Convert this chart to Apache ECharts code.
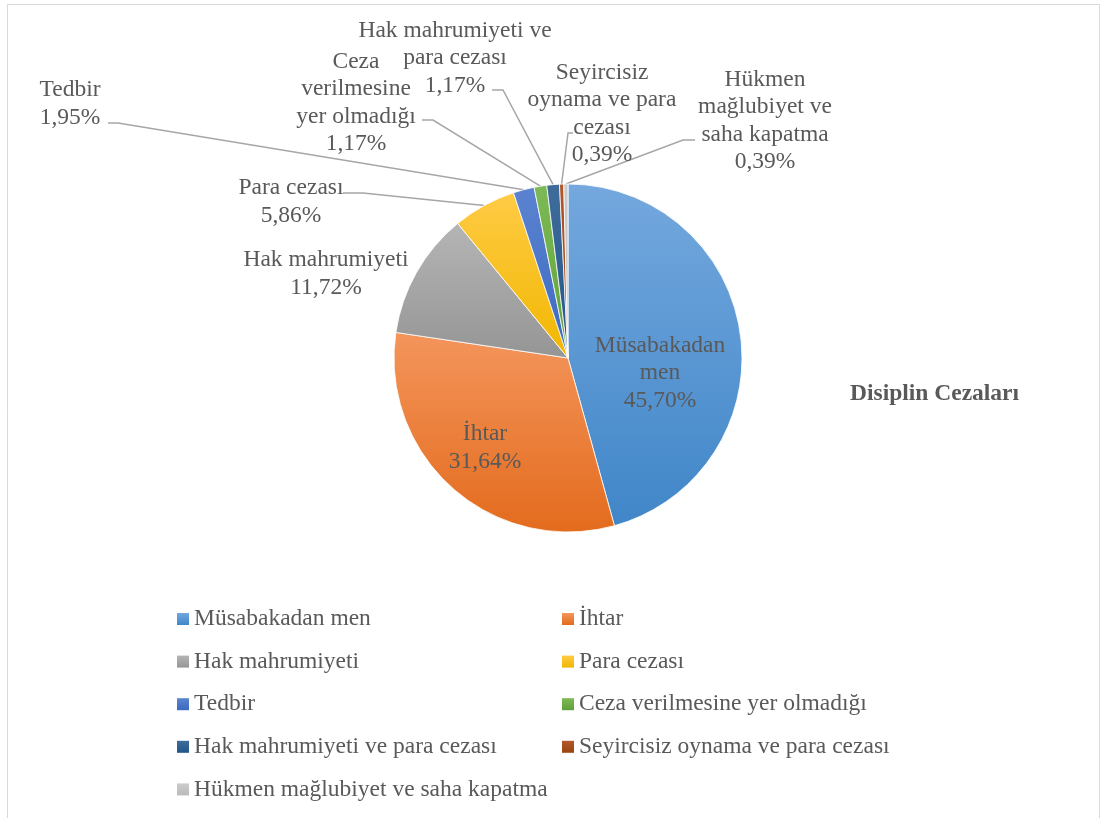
<!DOCTYPE html>
<html>
<head>
<meta charset="utf-8">
<title>Disiplin Cezaları</title>
<script src="https://cdn.jsdelivr.net/npm/echarts@6/dist/echarts.min.js"></script>
<style>
  html, body { margin: 0; padding: 0; background: #fff; }
  #chart { width: 1103px; height: 818px; }
</style>
</head>
<body>
<div id="chart"></div>
<script>
// kategoriler (lejant adlari)
var categories = [
  'Müsabakadan men',
  'İhtar',
  'Hak mahrumiyeti',
  'Para cezası',
  'Tedbir',
  'Ceza verilmesine yer olmadığı',
  'Hak mahrumiyeti ve para cezası',
  'Seyircisiz oynama ve para cezası',
  'Hükmen mağlubiyet ve saha kapatma'
]
// yuzdeler
var percents = [45.70, 31.64, 11.72, 5.86, 1.95, 1.17, 1.17, 0.39, 0.39]
// etiketlerde kullanilan satir kirilimli adlar
var labelNames = [
  'Müsabakadan\nmen',
  'İhtar',
  'Hak mahrumiyeti',
  'Para cezası',
  'Tedbir',
  'Ceza\nverilmesine\nyer olmadığı',
  'Hak mahrumiyeti ve\npara cezası',
  'Seyircisiz\noynama ve para\ncezası',
  'Hükmen\nmağlubiyet ve\nsaha kapatma'
]

// dilim renkleri (ust / alt)
var sliceColors = [
  ['#74a8de', '#4086c8'],
  ['#f4955c', '#e36b1d'],
  ['#b5b5b5', '#959595'],
  ['#ffcb45', '#f1b700'],
  ['#5b83d1', '#3c69bf'],
  ['#7dba57', '#60a03a'],
  ['#3f6c9b', '#21558a'],
  ['#b2572b', '#9a450f'],
  ['#cbcbcb', '#bbbbbb']
]
// etiket konumlari (merkez)
var labelPos = [
  [660, 373],
  [485, 448],
  [326, 274],
  [291, 202],
  [70, 104],
  [356, 103],
  [455, 58],
  [602, 114],
  [765, 121]
]
// kilavuz cizgisinin etiket tarafindaki ucu [x, y, yatay uzunluk]
var lineAnchors = [
  null,
  null,
  null,
  [343, 193, 20],
  [108, 123, 10],
  [422, 120, 11],
  [492, 90, 11],
  [573, 133, -5],
  [695, 140, -12]
]

var pieCenter = [568, 358]
var pieRadius = 174
var textColor = '#595959'
var fontFamily = '"Liberation Serif", "Times New Roman", serif'
var fontSize = 23.5

var chart = echarts.init(document.getElementById('chart'))

var pieData = categories.map(function(name, i) {
  var item = {
    name: name,
    value: percents[i],
    itemStyle: {
      color: new echarts.graphic.LinearGradient(0, 0, 0, 1, [
        { offset: 0, color: sliceColors[i][0] },
        { offset: 1, color: sliceColors[i][1] }
      ])
    }
  }
  if (!lineAnchors[i]) {
    item.labelLine = { show: false }
  }
  return item
})

// dilimin dis yayinda orta nokta (yedek hesap)
function arcMidPoint(idx) {
  var total = 0
  var before = 0
  percents.forEach(function(v, i) {
    total += v
    if (i < idx) before += v
  })
  var a = (before + percents[idx] / 2) / total * Math.PI * 2
  return [pieCenter[0] + pieRadius * Math.sin(a), pieCenter[1] - pieRadius * Math.cos(a)]
}

var legendText = {
  color: textColor,
  fontFamily: fontFamily,
  fontSize: fontSize,
  lineHeight: 24
}

function makeLegend(left, odd) {
  return {
    orient: 'vertical',
    left: left,
    top: 607,
    padding: 0,
    itemWidth: 12,
    itemHeight: 12,
    itemGap: 18.6,
    icon: 'rect',
    itemStyle: { borderWidth: 0 },
    textStyle: legendText,
    data: categories.filter(function(c, i) { return i % 2 === odd })
  }
}

var option = {
  animation: false,
  backgroundColor: '#fff',
  title: {
    text: 'Disiplin Cezaları',
    left: 850,
    top: 382,
    padding: 0,
    textStyle: {
      color: textColor,
      fontFamily: fontFamily,
      fontSize: fontSize,
      lineHeight: 24,
      fontWeight: 'bold'
    }
  },
  legend: [makeLegend(177, 0), makeLegend(562, 1)],
  graphic: [
    {
      type: 'rect',
      shape: { x: 7.5, y: 4.5, width: 1092, height: 830 },
      style: { fill: 'none', stroke: '#d9d9d9', lineWidth: 1 },
      silent: true
    }
  ],
  series: [
    {
      type: 'pie',
      center: pieCenter,
      radius: pieRadius,
      startAngle: 90,
      clockwise: true,
      avoidLabelOverlap: false,
      itemStyle: {
        borderColor: '#fff',
        borderWidth: 0.8
      },
      label: {
        show: true,
        position: 'outside',
        color: textColor,
        fontFamily: fontFamily,
        fontSize: fontSize,
        lineHeight: 27.5,
        align: 'center',
        formatter: function(p) {
          return labelNames[p.dataIndex] + '\n' + p.value.toFixed(2).replace('.', ',') + '%'
        }
      },
      labelLine: {
        show: true,
        length: 10,
        length2: 12,
        lineStyle: { color: '#a6a6a6', width: 1.5 }
      },
      labelLayout: function(params) {
        var i = params.dataIndex
        var pos = labelPos[i]
        var res = {
          x: pos[0],
          y: pos[1],
          align: 'center',
          verticalAlign: 'middle'
        }
        var an = lineAnchors[i]
        if (an) {
          var start = params.labelLinePoints && params.labelLinePoints[0]
            ? params.labelLinePoints[0] : arcMidPoint(i)
          res.labelLinePoints = [
            [start[0], start[1]],
            [an[0] + an[2], an[1]],
            [an[0], an[1]]
          ]
        }
        return res
      },
      data: pieData
    }
  ]
}

chart.setOption(option)
</script>
</body>
</html>
